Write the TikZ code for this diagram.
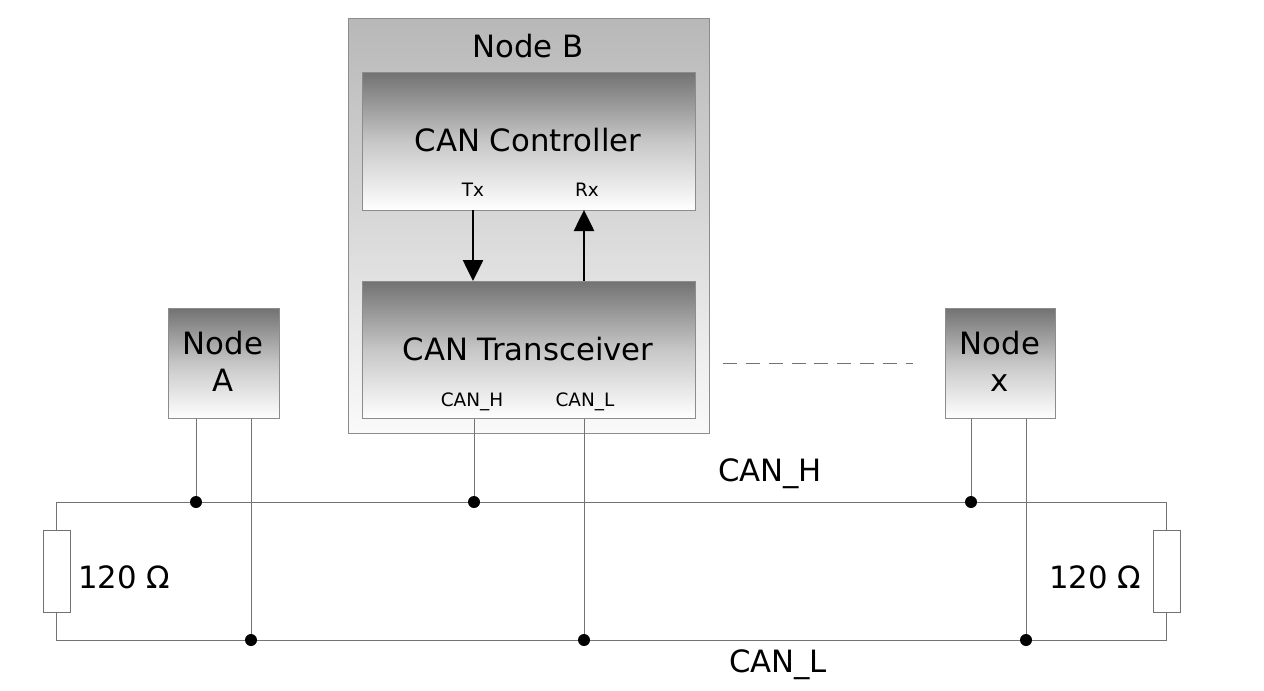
\documentclass[tikz,border=0pt]{standalone}
\usepackage{fontspec}
\setmainfont{DejaVu Sans}
\usetikzlibrary{arrows.meta}
\tikzset{
  block/.style={draw=black!45, line width=0.6pt, shading=axis, top color=black!55, bottom color=white, middle color=black!22, inner sep=0pt, anchor=north west},
  wire/.style={draw=black!55, line width=0.5pt},
  dot/.style={circle, fill=black, inner sep=0pt, minimum size=0.24cm},
  lbl/.style={font=\fontsize{17.5}{21}\selectfont},
  pin/.style={font=\fontsize{10.5}{12}\selectfont}
}
\begin{document}
\begin{tikzpicture}[x=0.02cm, y=-0.02cm]
	\useasboundingbox (0,0) rectangle (1264,690);
	% node B frame
	\node[draw=black!45, line width=0.6pt, shading=axis, top color=black!28, bottom color=black!2, minimum width=7.22cm, minimum height=8.3cm, inner sep=0pt, anchor=north west](nodeB) at (348,18){};
	\node[lbl] (nodeBlbl) at (528,46){Node B};
	\node[block, minimum width=6.66cm, minimum height=2.76cm](ctrl) at (362,72){};
	\node[lbl] (ctrllbl) at (528,140){CAN Controller};
	\node[pin] (tx) at (473,190){Tx};
	\node[pin] (rx) at (587,190){Rx};
	\node[block, minimum width=6.66cm, minimum height=2.74cm](trx) at (362,281){};
	\node[lbl] (trxlbl) at (528,349){CAN Transceiver};
	\node[pin] (canh) at (472,402){CAN\_H};
	\node[pin] (canl) at (585,402){CAN\_L};
	% other nodes
	\node[block, minimum width=2.22cm, minimum height=2.2cm](nodeA) at (168,308){};
	\node[lbl, align=center] (nodeAlbl) at (223,361){Node\\A};
	\node[block, minimum width=2.2cm, minimum height=2.2cm](nodeX) at (945,308){};
	\node[lbl, align=center] (nodeXlbl) at (1000,361){Node\\x};
	% arrows
	\draw[-{Triangle[length=0.42cm,width=0.4cm]}, line width=1.5pt] (473,210) -- (473,281);
	\draw[-{Triangle[length=0.42cm,width=0.4cm]}, line width=1.5pt] (584,281) -- (584,210);
	\draw[wire, dashed, dash pattern=on 8pt off 5pt] (723,363) -- (913,363);
	% bus
	\node[dot](h1) at (196,502){};
	\node[dot](h2) at (474,502){};
	\node[dot](h3) at (971,502){};
	\node[dot](l1) at (251,640){};
	\node[dot](l2) at (584,640){};
	\node[dot](l3) at (1026,640){};
	\node[draw=black!55, fill=white, minimum width=0.54cm, minimum height=1.64cm, inner sep=0pt](r1) at (56.5,571){};
	\node[draw=black!55, fill=white, minimum width=0.54cm, minimum height=1.64cm, inner sep=0pt](r2) at (1166.5,571){};
	\draw[wire] (r1.north) |- (h1) -- (h2) -- (h3) -| (r2.north);
	\draw[wire] (r1.south) |- (l1) -- (l2) -- (l3) -| (r2.south);
	\draw[wire] (nodeA.south west) ++(28,0) -- (h1);
	\draw[wire] (nodeA.south west) ++(83,0) -- (l1);
	\draw[wire] (trx.south west) ++(112,0) -- (h2);
	\draw[wire] (trx.south west) ++(222,0) -- (l2);
	\draw[wire] (nodeX.south west) ++(26,0) -- (h3);
	\draw[wire] (nodeX.south west) ++(81,0) -- (l3);
	\node[lbl] (lblh) at (770,474){CAN\_H};
	\node[lbl] (lbll) at (778,665){CAN\_L};
	\node[lbl] (lblr1) at (124,577){120 Ω};
	\node[lbl] (lblr2) at (1095,577){120 Ω};
\end{tikzpicture}
\end{document}
